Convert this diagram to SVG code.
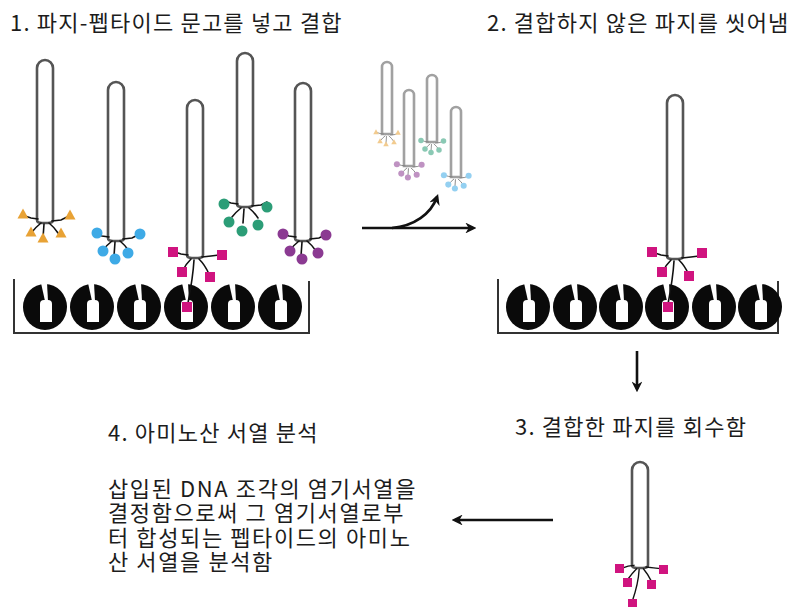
<svg xmlns="http://www.w3.org/2000/svg" width="789" height="607" viewBox="0 0 789 607">
  <style>
    .lbl { font-family: "Noto Sans CJK KR", "Noto Sans", sans-serif; font-size: 22px; fill: #1c1c1c; letter-spacing: 1.2px; }
    .body { letter-spacing: 1.6px; }
    .tube { fill: #ffffff; stroke: #555; stroke-width: 2.6; }
    .fib { fill: none; stroke: #111; stroke-width: 1.6; stroke-linecap: round; }
    .wall { fill: none; stroke: #333; stroke-width: 2; }
    .arrow { fill: none; stroke: #111; stroke-width: 2.6; }
    .org { fill: #e8a235; }
    .blu { fill: #3eaae6; }
    .mag { fill: #d0147f; }
    .grn { fill: #2c9d77; }
    .pur { fill: #8b3a92; }
  </style>
  <defs>
    <marker id="ah" viewBox="0 0 10 10" refX="7" refY="5" markerWidth="4.2" markerHeight="4.2" orient="auto" markerUnits="strokeWidth">
      <path d="M0,0 L10,5 L0,10 L3,5 Z" fill="#111"/>
    </marker>
    <!-- well ring: black thick loop with a notch on top -->
    <g id="ring">
      <ellipse cx="0" cy="0" rx="22" ry="23" fill="#0a0a0a"/>
      <path d="M-5,-3 Q-5,-7 -1,-7 L3,-7 Q7,-7 7,-3 L7,15 L-5,15 Z" fill="#fff"/>
      <path d="M-4,-24 L2,-24 L3,-6 L0,-6 Z" fill="#fff"/>
    </g>
    <!-- tail fibres, hub at 0,0 -->
    <g id="fibres">
      <path class="fib" d="M-7,-2 L-14,-3 L-20,-5"/>
      <path class="fib" d="M7,0 L16,-1 L22,-4"/>
      <path class="fib" d="M-4,2 Q-9,6 -13,11"/>
      <path class="fib" d="M4,2 Q9,6 13,12"/>
      <path class="fib" d="M-1,3 L-2,17"/>
    </g>
    <g id="fibresBound">
      <path class="fib" d="M-7,-2 L-14,-3 L-20,-5"/>
      <path class="fib" d="M7,0 L16,-1 L24,-2"/>
      <path class="fib" d="M-4,2 Q-9,7 -12,13"/>
      <path class="fib" d="M4,2 Q10,8 14,17"/>
      <path class="fib" d="M-1,3 Q-2,20 -7,46"/>
    </g>
    <g id="tri"><path d="M0,-5.5 L5.5,4.5 L-5.5,4.5 Z"/></g>
    <g id="dot"><circle r="5.5"/></g>
    <g id="sq"><rect x="-5" y="-5" width="10" height="10"/></g>
  </defs>

  <!-- step labels -->
  <g id="label-1"><text class="lbl" x="10" y="31">1. 파지-펩타이드 문고를 넣고 결합</text></g>
  <g id="label-2"><text class="lbl" x="487" y="31">2. 결합하지 않은 파지를 씻어냄</text></g>
  <g id="label-3"><text class="lbl" x="515" y="435">3. 결합한 파지를 회수함</text></g>
  <g id="label-4"><text class="lbl" x="108" y="441">4. 아미노산 서열 분석</text></g>
  <g id="label-4-desc">
    <text class="lbl body" x="108" y="497">삽입된 DNA 조각의 염기서열을</text>
    <text class="lbl body" x="108" y="521">결정함으로써 그 염기서열로부</text>
    <text class="lbl body" x="108" y="546">터 합성되는 펩타이드의 아미노</text>
    <text class="lbl body" x="108" y="570">산 서열을 분석함</text>
  </g>

  <!-- plate of step 1 -->
  <g id="plate-1">
    <path class="wall" d="M14,279 L14,333 L309,333 L309,281"/>
    <use href="#ring" x="45" y="307"/>
    <use href="#ring" x="92" y="307"/>
    <use href="#ring" x="139" y="307"/>
    <use href="#ring" x="186" y="307"/>
    <use href="#ring" x="233" y="307"/>
    <use href="#ring" x="280" y="307"/>
  </g>

  <!-- plate of step 2 -->
  <g id="plate-2">
    <path class="wall" d="M498,279 L498,333 L778,333 L778,281"/>
    <use href="#ring" x="528" y="307"/>
    <use href="#ring" x="575" y="307"/>
    <use href="#ring" x="621" y="307"/>
    <use href="#ring" x="667" y="307"/>
    <use href="#ring" x="714" y="307"/>
    <use href="#ring" x="760" y="307"/>
  </g>

  <!-- library phages -->
  <g id="phage-orange">
    <path class="tube" d="M37,220 L37,68 A8,8 0 0 1 53,68 L53,220 Q53,223 48,223 L42,223 Q37,223 37,220 Z"/>
    <use href="#fibres" x="45" y="221"/>
    <g class="org">
      <use href="#tri" x="23" y="214"/><use href="#tri" x="70" y="215"/>
      <use href="#tri" x="31" y="232"/><use href="#tri" x="43" y="238"/><use href="#tri" x="61" y="233"/>
    </g>
  </g>
  <g id="phage-blue">
    <path class="tube" d="M108,238 L108,90 A8,8 0 0 1 124,90 L124,238 Q124,241 119,241 L113,241 Q108,241 108,238 Z"/>
    <use href="#fibres" x="116" y="239"/>
    <g class="blu">
      <use href="#dot" x="97" y="233"/><use href="#dot" x="140" y="234"/>
      <use href="#dot" x="103" y="251"/><use href="#dot" x="115" y="259"/><use href="#dot" x="128" y="253"/>
    </g>
  </g>
  <g id="phage-magenta">
    <path class="tube" d="M187,255 L187,108 A8,8 0 0 1 203,108 L203,255 Q203,258 198,258 L192,258 Q187,258 187,255 Z"/>
    <use href="#fibresBound" x="195" y="257"/>
    <g class="mag">
      <use href="#sq" x="173" y="252"/><use href="#sq" x="222" y="255"/>
      <use href="#sq" x="182" y="272"/><use href="#sq" x="210" y="277"/><use href="#sq" x="187" y="307"/>
    </g>
  </g>
  <g id="phage-green">
    <path class="tube" d="M237,204 L237,61 A8,8 0 0 1 253,61 L253,204 Q253,207 248,207 L242,207 Q237,207 237,204 Z"/>
    <use href="#fibres" x="245" y="206"/>
    <g class="grn">
      <use href="#dot" x="224" y="204"/><use href="#dot" x="267" y="207"/>
      <use href="#dot" x="229" y="222"/><use href="#dot" x="242" y="231"/><use href="#dot" x="258" y="225"/>
    </g>
  </g>
  <g id="phage-purple">
    <path class="tube" d="M295,238 L295,91 A8,8 0 0 1 311,91 L311,238 Q311,241 306,241 L300,241 Q295,241 295,238 Z"/>
    <use href="#fibres" x="303" y="239"/>
    <g class="pur">
      <use href="#dot" x="283" y="234"/><use href="#dot" x="326" y="235"/>
      <use href="#dot" x="290" y="251"/><use href="#dot" x="302" y="259"/><use href="#dot" x="318" y="253"/>
    </g>
  </g>

  <!-- washed-away phages -->
  <g id="washed" opacity="0.55">
    <g id="washed-orange">
      <path class="tube" stroke-width="1.8" d="M382,134 L382,67 A5,5 0 0 1 392,67 L392,134 Z"/>
      <use href="#fibres" transform="translate(387,135) scale(0.5)"/>
      <g class="org" transform="translate(387,135) scale(0.5)">
        <use href="#tri" x="-22" y="-6"/><use href="#tri" x="22" y="-5"/>
        <use href="#tri" x="-14" y="12"/><use href="#tri" x="-2" y="18"/><use href="#tri" x="14" y="14"/>
      </g>
    </g>
    <g id="washed-purple">
      <path class="tube" stroke-width="1.8" d="M404,166 L404,95 A5,5 0 0 1 414,95 L414,166 Z"/>
      <use href="#fibres" transform="translate(409,167) scale(0.55)"/>
      <g class="pur" transform="translate(409,167) scale(0.55)">
        <use href="#dot" x="-22" y="-5"/><use href="#dot" x="23" y="-4"/>
        <use href="#dot" x="-14" y="12"/><use href="#dot" x="-2" y="19"/><use href="#dot" x="14" y="14"/>
      </g>
    </g>
    <g id="washed-green">
      <path class="tube" stroke-width="1.8" d="M427,142 L427,80 A5,5 0 0 1 437,80 L437,142 Z"/>
      <use href="#fibres" transform="translate(432,143) scale(0.5)"/>
      <g class="grn" transform="translate(432,143) scale(0.5)">
        <use href="#dot" x="-22" y="-5"/><use href="#dot" x="23" y="-4"/>
        <use href="#dot" x="-14" y="12"/><use href="#dot" x="-2" y="19"/><use href="#dot" x="14" y="14"/>
      </g>
    </g>
    <g id="washed-blue">
      <path class="tube" stroke-width="1.8" d="M451,177 L451,112 A5,5 0 0 1 461,112 L461,177 Z"/>
      <use href="#fibres" transform="translate(456,178) scale(0.55)"/>
      <g class="blu" transform="translate(456,178) scale(0.55)">
        <use href="#dot" x="-22" y="-5"/><use href="#dot" x="23" y="-4"/>
        <use href="#dot" x="-14" y="12"/><use href="#dot" x="-2" y="19"/><use href="#dot" x="14" y="14"/>
      </g>
    </g>
  </g>

  <!-- bound phage after washing -->
  <g id="phage-bound">
    <path class="tube" d="M667,256 L667,103 A8,8 0 0 1 683,103 L683,256 Q683,259 678,259 L672,259 Q667,259 667,256 Z"/>
    <use href="#fibresBound" x="675" y="258"/>
    <g class="mag">
      <use href="#sq" x="652" y="252"/><use href="#sq" x="702" y="253"/>
      <use href="#sq" x="662" y="272"/><use href="#sq" x="689" y="276"/><use href="#sq" x="668" y="307"/>
    </g>
  </g>

  <!-- recovered phage -->
  <g id="phage-recovered">
    <path class="tube" d="M632,565 L632,470 A8,8 0 0 1 648,470 L648,565 Q648,568 643,568 L637,568 Q632,568 632,565 Z"/>
    <g transform="translate(640,567) scale(0.85)">
      <path class="fib" d="M-7,-2 L-14,-1 L-20,1"/>
      <path class="fib" d="M7,0 L16,1 L24,2"/>
      <path class="fib" d="M-4,2 Q-9,7 -14,14"/>
      <path class="fib" d="M4,2 Q9,8 13,16"/>
      <path class="fib" d="M-1,3 Q-2,20 -9,40"/>
    </g>
    <g class="mag">
      <rect x="615" y="564" width="9" height="9"/><rect x="659" y="565" width="9" height="9"/>
      <rect x="623" y="578" width="9" height="9"/><rect x="647" y="580" width="9" height="9"/>
      <rect x="628" y="599" width="9" height="8"/>
    </g>
  </g>

  <!-- connectors -->
  <g id="connectors">
    <path class="arrow" d="M362,228 L473,228" marker-end="url(#ah)"/>
    <path class="arrow" d="M392,228 C414,226 431,214 437,197" marker-end="url(#ah)"/>
    <path class="arrow" d="M637,351 L637,389" marker-end="url(#ah)"/>
    <path class="arrow" d="M553,520 L455,520" marker-end="url(#ah)"/>
  </g>
</svg>
